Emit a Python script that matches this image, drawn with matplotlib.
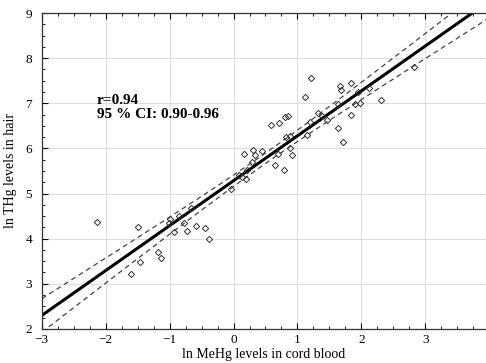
import numpy as np
import matplotlib.pyplot as plt
from matplotlib.ticker import MultipleLocator

# ln MeHg in cord blood (x) and ln THg in hair (y)
mehg = [-2.14, -1.60, -1.49, -1.46, -1.18, -1.14, -1.01, -0.99, -0.93, -0.86,
        -0.78, -0.73, -0.66, -0.58, -0.44, -0.38, -0.04, 0.09, 0.14, 0.20,
        0.21, 0.17, 0.29, 0.31, 0.33, 0.44, 0.59, 0.71, 0.65, 0.69,
        0.79, 0.80, 0.85, 0.82, 0.88, 0.89, 0.91, 1.12, 1.15, 1.21,
        1.20, 1.32, 1.38, 1.47, 1.64, 1.71, 1.64, 1.66, 1.68, 1.84,
        1.83, 1.90, 1.98, 1.95, 2.12, 2.31, 2.83]
thg = [4.37, 3.22, 4.26, 3.49, 3.71, 3.56, 4.34, 4.43, 4.15, 4.50,
       4.35, 4.17, 4.67, 4.29, 4.23, 3.99, 5.10, 5.42, 5.37, 5.33,
       5.53, 5.87, 5.69, 5.96, 5.86, 5.94, 6.53, 6.56, 5.64, 5.88,
       5.52, 6.70, 6.71, 6.25, 6.28, 6.00, 5.85, 7.15, 6.29, 7.55,
       6.59, 6.79, 6.71, 6.62, 6.45, 6.14, 6.98, 7.38, 7.30, 7.45,
       6.75, 6.98, 7.01, 7.25, 7.34, 7.07, 7.80]

annot = "r=0.94\n95 % CI: 0.90-0.96"
xlabel = "ln MeHg levels in cord blood"
ylabel = "ln THg levels in hair"

plt.rcParams['font.family'] = ['Liberation Serif', 'DejaVu Serif']

x = np.array(mehg)
y = np.array(thg)
n = len(x)

# least squares line and its 95% confidence band
slope, intercept = np.polyfit(x, y, 1)
resid = y - (intercept + slope * x)
s = np.sqrt(np.sum(resid ** 2) / (n - 2))
sxx = np.sum((x - x.mean()) ** 2)
xs = np.linspace(-3, 4, 200)
fit = intercept + slope * xs
half = 2.0 * s * np.sqrt(1.0 / n + (xs - x.mean()) ** 2 / sxx)

fig = plt.figure(figsize=(4.86, 3.63), dpi=100)
ax = fig.add_axes([0.086, 0.094, 0.914, 0.870])

ax.plot(xs, fit + half, color='#444444', lw=0.9, ls=(0, (4, 3)))
ax.plot(xs, fit - half, color='#444444', lw=0.9, ls=(0, (4, 3)))
ax.plot(xs, fit, color='black', lw=2.2)
ax.plot(x, y, ls='none', marker='D', ms=3.2, mfc='none', mec='#333333', mew=0.7)

ax.text(-2.14, 6.9, annot, fontsize=11, fontweight='bold',
        va='center', ha='left', linespacing=1.1)

ax.set_xlim(-3, 3.95)
ax.set_ylim(2, 9)
ax.xaxis.set_major_locator(MultipleLocator(1))
ax.xaxis.set_minor_locator(MultipleLocator(0.25))
ax.yaxis.set_major_locator(MultipleLocator(1))
ax.yaxis.set_minor_locator(MultipleLocator(0.25))
ax.tick_params(which='both', direction='in', top=True, right=False,
               labelsize=9.5)
ax.tick_params(axis='x', pad=4)
ax.tick_params(axis='y', pad=7)
ax.tick_params(which='major', length=4)
ax.tick_params(which='minor', length=2)
ax.grid(True, which='major', color='#dddddd', lw=0.8)
ax.set_axisbelow(True)
ax.spines['right'].set_visible(False)
for sp in ['left', 'bottom', 'top']:
    ax.spines[sp].set_color('#333333')
    ax.spines[sp].set_linewidth(0.9)

ax.set_xlabel(xlabel, fontsize=10, labelpad=1)
ax.set_ylabel(ylabel, fontsize=10, labelpad=6)

fig.savefig('out.png', dpi=100)
